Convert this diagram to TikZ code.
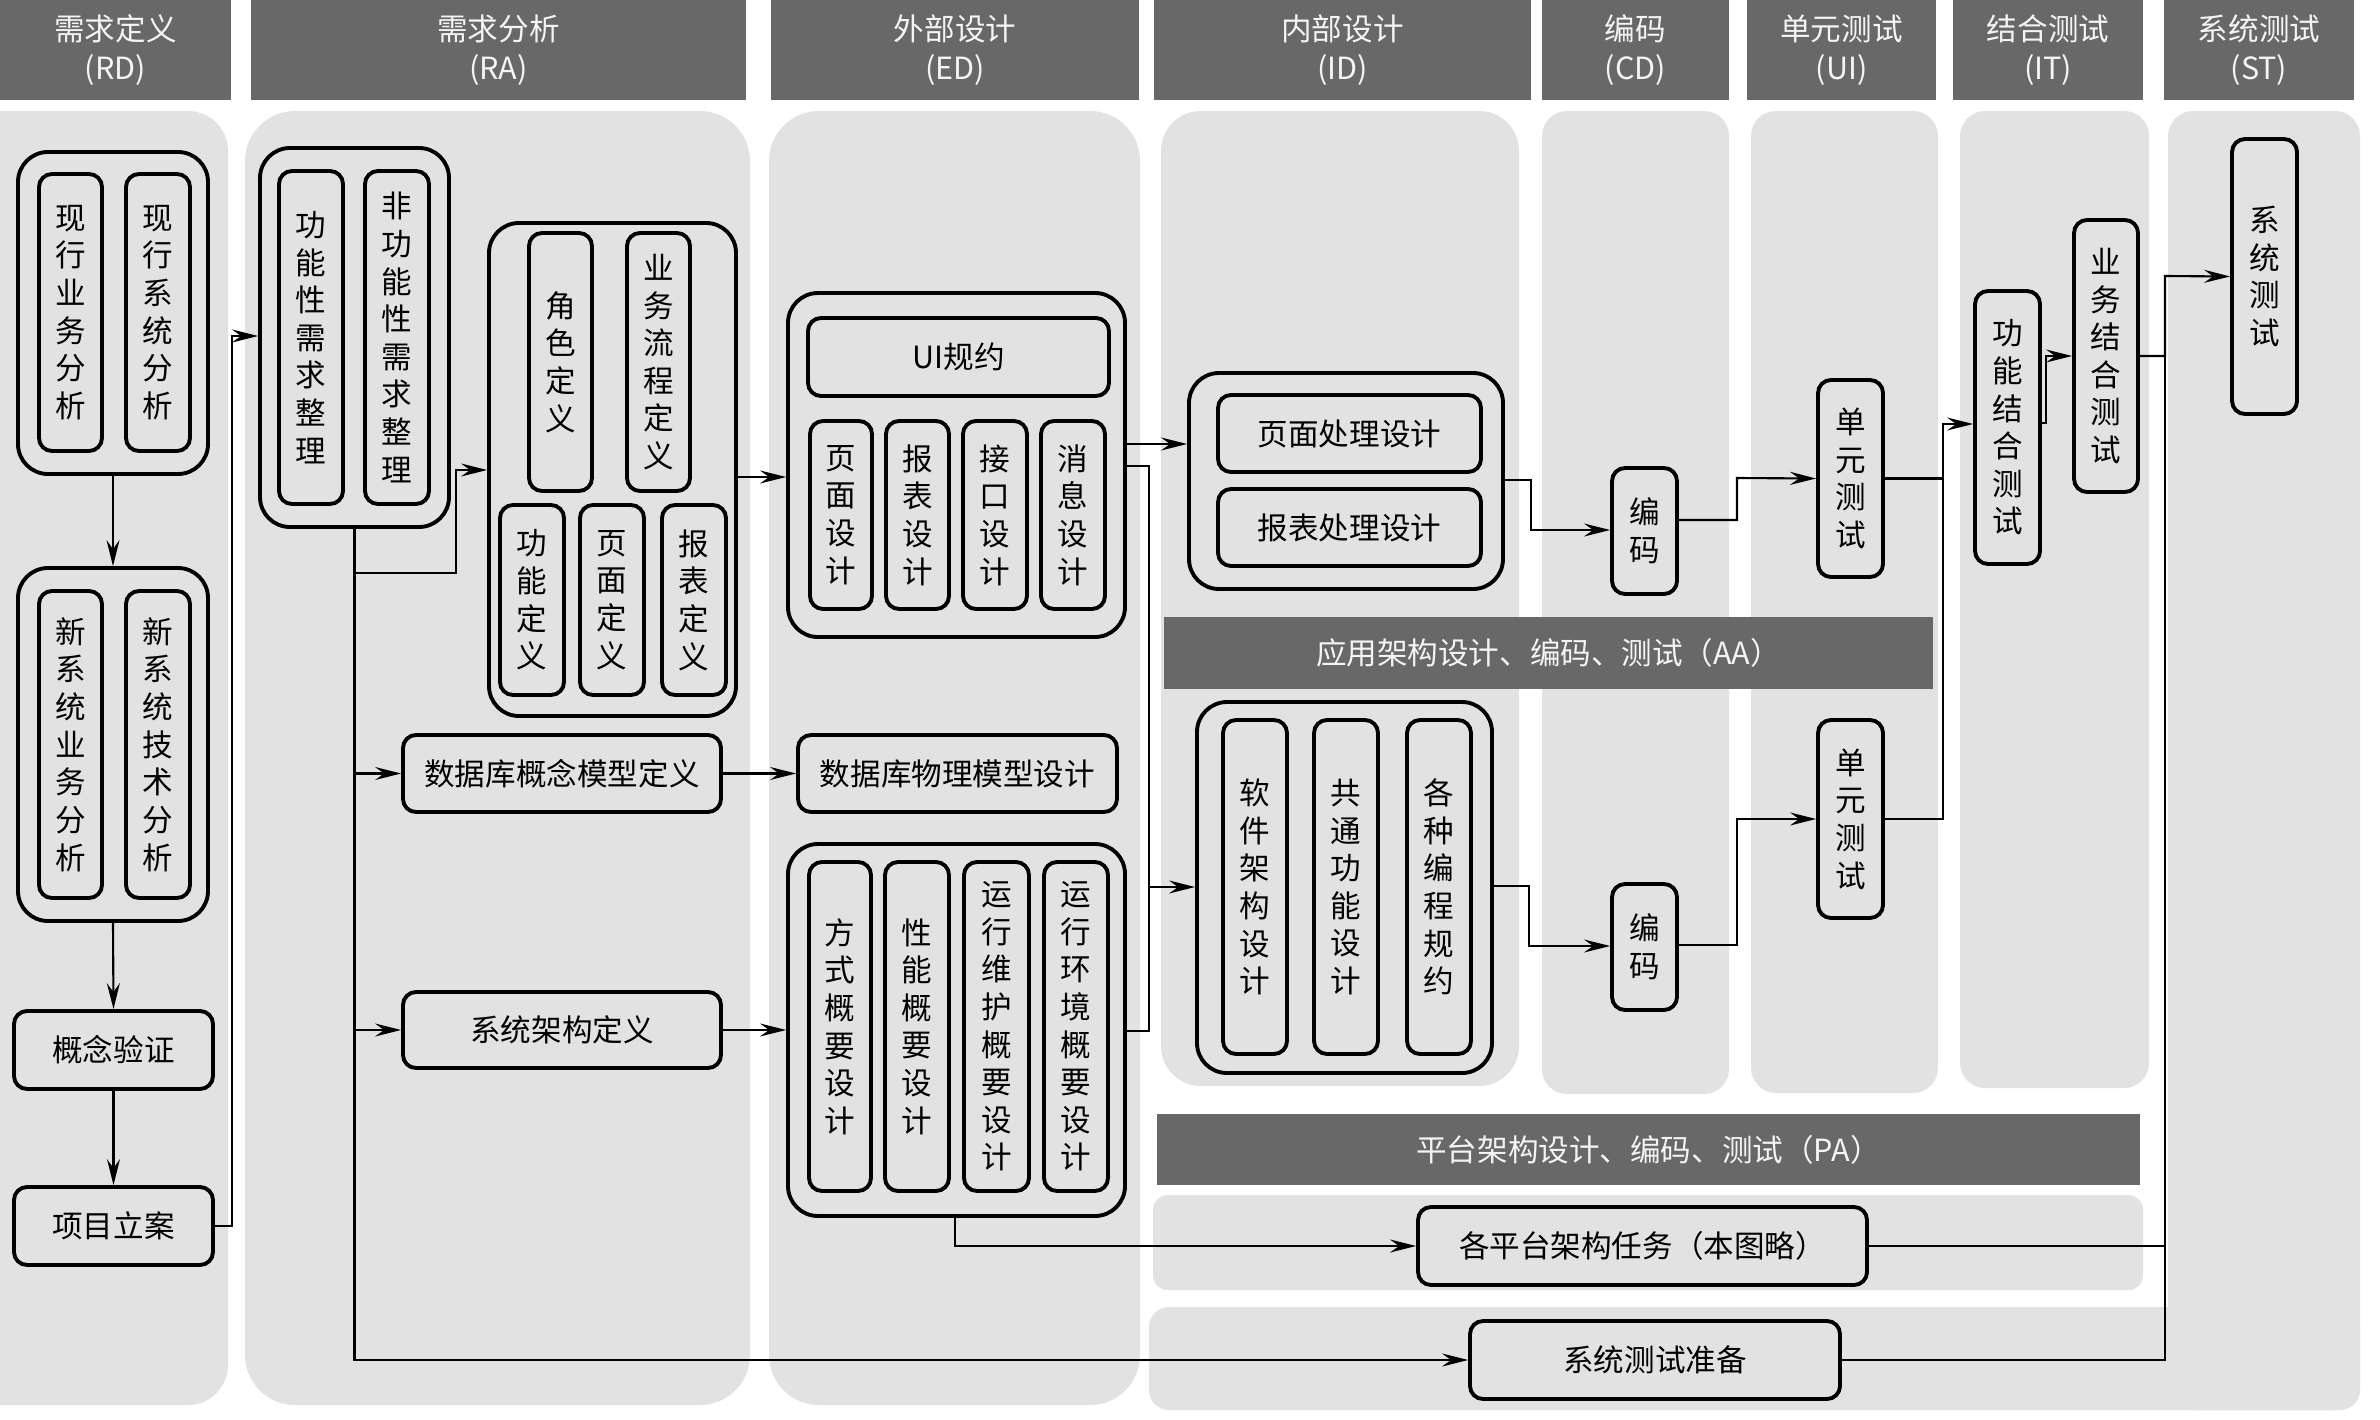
\documentclass[tikz,border=0pt]{standalone}
\usepackage{fontspec}
\setmainfont{Noto Sans CJK SC}
\usetikzlibrary{arrows.meta}
\definecolor{bgc}{HTML}{E2E2E2}
\definecolor{hdc}{HTML}{686868}
\definecolor{hdt}{HTML}{F4F4F4}
% #1 style, #2 name, #3 x1, #4 y1, #5 x2, #6 y2, #7 text
\newcommand\bx[7]{\node[#1,minimum width={(#5-#3)*0.1mm},minimum height={(#6-#4)*0.1mm}] (#2) at ({(#3+#5)/2},{(#4+#6)/2}) {#7};}
\begin{document}
\begin{tikzpicture}[x=0.1mm,y=-0.1mm,
  font=\fontsize{8.7}{10.7}\selectfont,
  hdr/.style={fill=hdc,text=hdt,inner sep=0pt,outer sep=0pt,font=\fontsize{8.7}{11}\selectfont},
  obox/.style={draw=black,line width=1.1pt,rounded corners=3mm,inner sep=0pt},
  ibox/.style={draw=black,line width=1.1pt,rounded corners=1.3mm,inner sep=0pt},
  vt/.style={align=center},
  arr/.style={line width=0.6pt,-{Stealth[length=2.6mm,width=1.3mm,inset=0.9mm]}},
  ln/.style={line width=0.6pt},
]
\useasboundingbox (0,0) rectangle (2380,1419);
\fill[white] (0,0) rectangle (2380,1419);
% column backgrounds
\fill[bgc,rounded corners=4mm] (-60,111) rectangle (228,1405);
\fill[bgc,rounded corners=5mm] (245,111) rectangle (750,1405);
\fill[bgc,rounded corners=5mm] (769,111) rectangle (1140,1405);
\fill[bgc,rounded corners=4mm] (1161,111) rectangle (1519,1086);
\fill[bgc,rounded corners=2.5mm] (1542,111) rectangle (1729,1094);
\fill[bgc,rounded corners=2.5mm] (1751,111) rectangle (1938,1093);
\fill[bgc,rounded corners=2.5mm] (1960,111) rectangle (2149,1088);
\fill[bgc,rounded corners=2.5mm] (2168,111) rectangle (2360,1410);
\fill[bgc,rounded corners=2mm] (1149,1307) rectangle (2360,1410);
\fill[bgc,rounded corners=1.5mm] (1153,1195) rectangle (2143,1290);
% headers
\bx{hdr,vt}{hRD}{0}{0}{231}{100}{需求定义\\(RD)}
\bx{hdr,vt}{hRA}{251}{0}{746}{100}{需求分析\\(RA)}
\bx{hdr,vt}{hED}{771}{0}{1139}{100}{外部设计\\(ED)}
\bx{hdr,vt}{hID}{1154}{0}{1531}{100}{内部设计\\(ID)}
\bx{hdr,vt}{hCD}{1542}{0}{1729}{100}{编码\\(CD)}
\bx{hdr,vt}{hUI}{1747}{0}{1936}{100}{单元测试\\(UI)}
\bx{hdr,vt}{hIT}{1953}{0}{2143}{100}{结合测试\\(IT)}
\bx{hdr,vt}{hST}{2164}{0}{2354}{100}{系统测试\\(ST)}
\bx{hdr}{hAA}{1164}{617}{1933}{689}{应用架构设计、编码、测试（AA）}
\bx{hdr}{hPA}{1157}{1114}{2140}{1185}{平台架构设计、编码、测试（PA）}
% RD
\bx{obox}{A1}{18}{152}{208}{474}{}
\bx{ibox,vt}{a11}{39}{174}{102}{451}{现\\行\\业\\务\\分\\析}
\bx{ibox,vt}{a12}{126}{174}{190}{451}{现\\行\\系\\统\\分\\析}
\bx{obox}{A2}{18}{568}{208}{921}{}
\bx{ibox,vt}{a21}{39}{591}{102}{898}{新\\系\\统\\业\\务\\分\\析}
\bx{ibox,vt}{a22}{126}{591}{190}{898}{新\\系\\统\\技\\术\\分\\析}
\bx{ibox}{poc}{14}{1011}{213}{1089}{概念验证}
\bx{ibox}{proj}{14}{1187}{213}{1265}{项目立案}
% RA
\bx{obox}{B1}{260}{148}{449}{527}{}
\bx{ibox,vt}{b11}{279}{171}{343}{504}{功\\能\\性\\需\\求\\整\\理}
\bx{ibox,vt}{b12}{365}{171}{429}{504}{非\\功\\能\\性\\需\\求\\整\\理}
\bx{obox}{B2}{489}{223}{736}{716}{}
\bx{ibox,vt}{b21}{529}{233}{592}{491}{角\\色\\定\\义}
\bx{ibox,vt}{b22}{627}{233}{690}{491}{业\\务\\流\\程\\定\\义}
\bx{ibox,vt}{b23}{500}{505}{564}{695}{功\\能\\定\\义}
\bx{ibox,vt}{b24}{580}{505}{644}{695}{页\\面\\定\\义}
\bx{ibox,vt}{b25}{662}{505}{726}{695}{报\\表\\定\\义}
\bx{ibox}{dbc}{403}{735}{721}{812}{数据库概念模型定义}
\bx{ibox}{sad}{403}{992}{721}{1068}{系统架构定义}
% ED
\bx{obox}{C1}{788}{293}{1125}{637}{}
\bx{ibox}{c0}{808}{318}{1109}{396}{UI规约}
\bx{ibox,vt}{c1}{810}{421}{872}{609}{页\\面\\设\\计}
\bx{ibox,vt}{c2}{886}{421}{949}{609}{报\\表\\设\\计}
\bx{ibox,vt}{c3}{963}{421}{1027}{609}{接\\口\\设\\计}
\bx{ibox,vt}{c4}{1041}{421}{1105}{609}{消\\息\\设\\计}
\bx{ibox}{dbp}{798}{735}{1117}{812}{数据库物理模型设计}
\bx{obox}{C3}{788}{844}{1125}{1216}{}
\bx{ibox,vt}{c31}{809}{862}{871}{1191}{方\\式\\概\\要\\设\\计}
\bx{ibox,vt}{c32}{885}{862}{949}{1191}{性\\能\\概\\要\\设\\计}
\bx{ibox,vt}{c33}{964}{862}{1029}{1191}{运\\行\\维\\护\\概\\要\\设\\计}
\bx{ibox,vt}{c34}{1044}{862}{1108}{1191}{运\\行\\环\\境\\概\\要\\设\\计}
% ID
\bx{obox}{D1}{1189}{373}{1503}{589}{}
\bx{ibox}{d11}{1218}{395}{1481}{472}{页面处理设计}
\bx{ibox}{d12}{1218}{489}{1481}{566}{报表处理设计}
\bx{obox}{D2}{1197}{702}{1492}{1073}{}
\bx{ibox,vt}{d21}{1223}{720}{1287}{1054}{软\\件\\架\\构\\设\\计}
\bx{ibox,vt}{d22}{1314}{720}{1378}{1054}{共\\通\\功\\能\\设\\计}
\bx{ibox,vt}{d23}{1407}{720}{1471}{1054}{各\\种\\编\\程\\规\\约}
% CD UI IT ST
\bx{ibox,vt}{cd1}{1612}{468}{1677}{594}{编\\码}
\bx{ibox,vt}{cd2}{1612}{884}{1677}{1010}{编\\码}
\bx{ibox,vt}{ut1}{1818}{380}{1883}{577}{单\\元\\测\\试}
\bx{ibox,vt}{ut2}{1818}{720}{1883}{918}{单\\元\\测\\试}
\bx{ibox,vt}{it1}{1975}{291}{2040}{564}{功\\能\\结\\合\\测\\试}
\bx{ibox,vt}{it2}{2074}{220}{2138}{492}{业\\务\\结\\合\\测\\试}
\bx{ibox,vt}{st}{2232}{139}{2297}{414}{系\\统\\测\\试}
\bx{ibox}{pa}{1418}{1207}{1867}{1285}{各平台架构任务（本图略）}
\bx{ibox}{stp}{1470}{1321}{1840}{1399}{系统测试准备}
% connectors
\draw[arr] (A1.south) -- (A2.north);
\draw[arr] (A2.south) -- (poc.north);
\draw[arr] (poc.south) -- (proj.north);
\draw[arr] (proj.east) -| (232,336) -- (B1.west |- 0,336);
\draw[arr] (B1.south) |- (stp.west);
\draw[arr] (B1.south |- 0,573) -- (456,573) |- (B2.west |- 0,470);
\draw[arr] (B1.south |- dbc.west) -- (dbc.west);
\draw[arr] (B1.south |- sad.west) -- (sad.west);
\draw[arr] (B2.east |- 0,477) -- (C1.west |- 0,477);
\draw[arr] (dbc.east) -- (dbp.west);
\draw[arr] (sad.east) -- (C3.west |- sad.east);
\draw[arr] (C1.east |- 0,444) -- (D1.west |- 0,444);
\draw[arr] (C1.east |- 0,466) -| (1149,887) -- (D2.west |- 0,887);
\draw[ln] (C3.east |- 0,1031) -| (1149,887);
\draw[arr] (C3.south -| 955,0) |- (pa.west);
\draw[arr] (D1.east |- 0,480) -| (1531,530) -- (cd1.west |- 0,530);
\draw[arr] (D2.east |- 0,886) -| (1529,946) -- (cd2.west |- 0,946);
\draw[arr] (cd1.east |- 0,520) -| (1737,478) -- (ut1.west);
\draw[arr] (cd2.east |- 0,945) -| (1737,819) -- (ut2.west);
\draw[arr] (ut1.east) -| (1943,424) -- (it1.west |- 0,424);
\draw[ln] (ut2.east) -| (1943,478);
\draw[arr] (it1.east |- 0,423) -| (2046,356) -- (it2.west);
\draw[arr] (it2.east) -| (2165,276) -- (st.west);
\draw[ln] (pa.east) -- (pa.east -| 2165,0);
\draw[ln] (stp.east) -| (2165,356);
\end{tikzpicture}
\end{document}
